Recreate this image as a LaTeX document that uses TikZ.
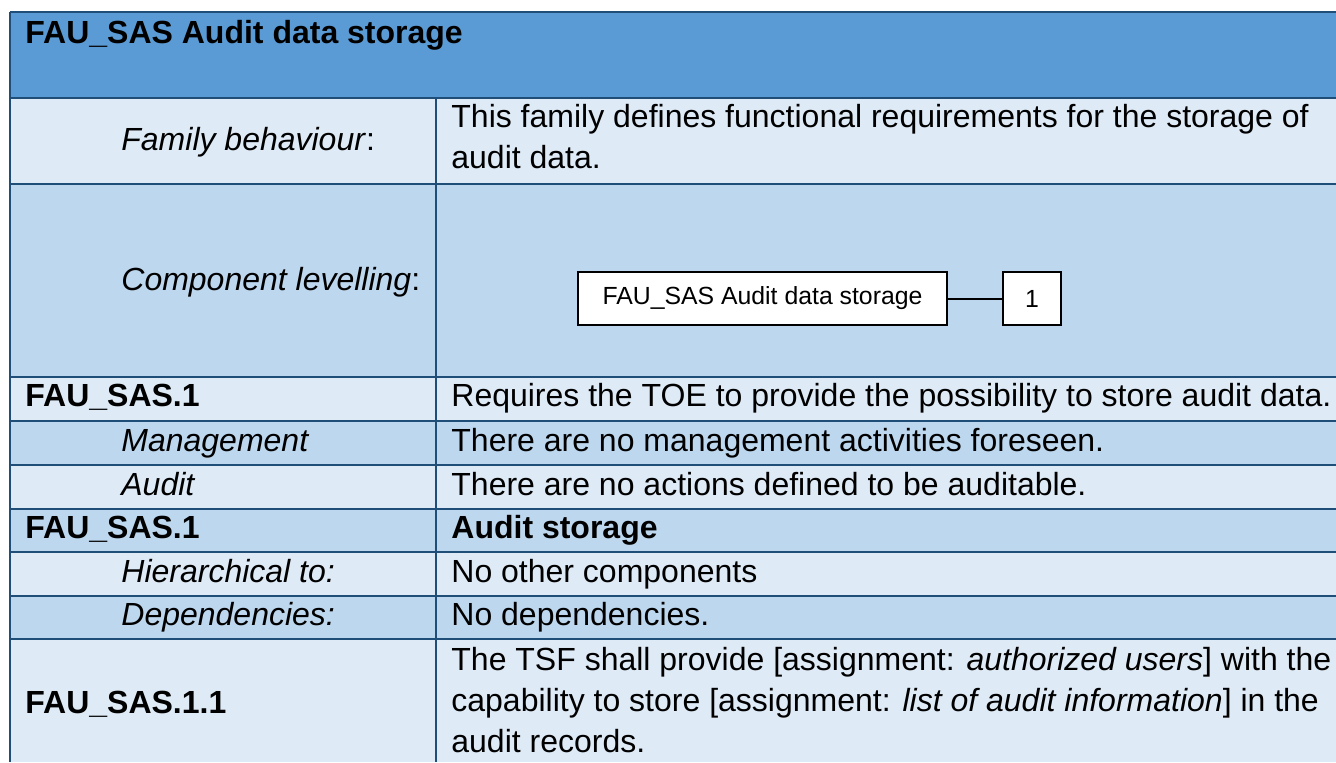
\documentclass[tikz,border=0pt]{standalone}
\usepackage{fontspec}
\setmainfont{Liberation Sans}
\usetikzlibrary{positioning}
\definecolor{hdrblue}{RGB}{91,155,213}
\definecolor{rowlight}{RGB}{222,234,246}
\definecolor{rowmid}{RGB}{189,215,238}
\definecolor{gridblue}{RGB}{31,78,121}
\tikzstyle{cell} = [anchor=base west, inner sep=0pt, font=\fontsize{16}{20.5}\selectfont]
\tikzstyle{boldcell} = [cell, font=\fontsize{16}{20.5}\selectfont\bfseries]
\tikzstyle{para} = [anchor=west, inner sep=0pt, align=left, font=\fontsize{16}{20.5}\selectfont]
\tikzstyle{levelbox} = [rectangle, draw=black, line width=1pt, fill=white, minimum height=26.5pt, inner sep=0pt, text centered, font=\fontsize{12.4}{14}\selectfont]
\tikzstyle{gridline} = [draw=gridblue, line width=0.9pt]

\begin{document}
\begin{tikzpicture}[x=0.5pt,y=-0.5pt]
\useasboundingbox (0,0) rectangle (1336,762);

% row shading
\fill[hdrblue] (10,12) rectangle (1336,98);
\foreach \ytop/\ybot/\col in {98/184/rowlight, 184/377/rowmid, 377/421/rowlight, 421/465/rowmid, 465/509/rowlight, 509/552/rowmid, 552/596/rowlight, 596/639/rowmid, 639/762/rowlight}
  \fill[\col] (10,\ytop) rectangle (1336,\ybot);

% table rules
\foreach \y in {12,98,184,377,421,465,509,552,596,639}
  \draw[gridline] (10,\y) -- (1336,\y);
\draw[gridline] (10,12) -- (10,762);
\draw[gridline] (436,98) -- (436,762);

\node (title) [boldcell] at (25,43) {FAU\_SAS Audit data storage};

\node (famLbl) [cell] at (121,150) {\textit{Family behaviour}:};
\node (famTxt) [para] at (451,137) {This family defines functional requirements for the storage of\\audit data.};

\node (lvlLbl) [cell] at (121,290) {\textit{Component levelling}:};
\node (famBox) [levelbox, minimum width=184.5pt] at (762.5,298.5) {FAU\_SAS Audit data storage};
\node (lvl1) [levelbox, minimum width=29pt, right=27pt of famBox] {1};
\draw [line width=1pt] (famBox) -- (lvl1);

\node (cmpLbl) [boldcell] at (25,406) {FAU\_SAS.1};
\node (reqTxt) [cell] at (451,406) {Requires the TOE to provide the possibility to store audit data.};
\node (mgmtLbl) [cell] at (121,451) {\textit{Management}};
\node (mgmtTxt) [cell] at (451,451) {There are no management activities foreseen.};
\node (audLbl) [cell] at (121,495) {\textit{Audit}};
\node (audTxt) [cell] at (451,495) {There are no actions defined to be auditable.};
\node (elemLbl) [boldcell] at (25,538) {FAU\_SAS.1};
\node (stoTxt) [boldcell] at (451,538) {Audit storage};
\node (hierLbl) [cell] at (121,582) {\textit{Hierarchical to:}};
\node (hierTxt) [cell] at (451,582) {No other components};
\node (depLbl) [cell] at (121,625) {\textit{Dependencies:}};
\node (depTxt) [cell] at (451,625) {No dependencies.};
\node (subLbl) [boldcell] at (25,713) {FAU\_SAS.1.1};
\node (subTxt) [para] at (451,700) {The TSF shall provide [assignment: \textit{authorized users}] with the\\capability to store [assignment: \textit{list of audit information}] in the\\audit records.};

\end{tikzpicture}
\end{document}
